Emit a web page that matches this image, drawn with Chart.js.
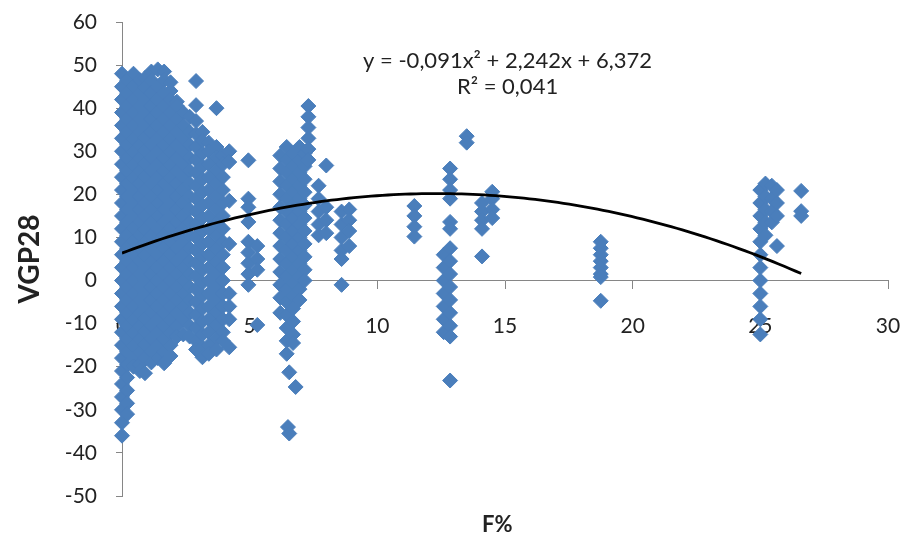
<!DOCTYPE html>
<html>
<head>
<meta charset="utf-8">
<title>VGP28 / F%</title>
<script src="https://cdn.jsdelivr.net/npm/chart.js@4.4.1/dist/chart.umd.min.js"></script>
<style>
  html, body { margin: 0; padding: 0; background: #fff; }
</style>
</head>
<body>
<canvas id="vgpChart" width="906" height="534"></canvas>
<script>
// F% value of each column of points, and the VGP28 values measured at it
const fColumns = [
  0, 0.2, 0.45, 0.7, 0.9, 1.15, 1.4, 1.65, 1.9, 2.15, 2.4, 2.65, 2.9, 3.15, 3.4, 3.7, 3.95, 4.2,
  4.95, 5.3,
  6.2, 6.45, 6.5, 6.55, 6.7, 6.8, 6.95, 7.15, 7.3, 7.7, 8.0, 8.6, 8.9,
  11.45, 12.6, 12.85, 13.5, 14.1, 14.5,
  18.75,
  25.0, 25.2, 25.45, 25.65, 26.6
];
const vgpColumns = [
  [48, 45, 42, 39, 36, 33, 30, 27, 24, 21, 18, 15, 12, 9, 6, 3, 0, -3, -6, -9, -12, -15, -18, -21, -24, -27, -30, -33, -36],
  [46.5, 43.5, 40.5, 37.5, 34.5, 31.5, 28.5, 25.5, 22.5, 19.5, 16.5, 13.5, 10.5, 7.5, 4.5, 1.5, -1.5, -4.5, -7.5, -10.5, -13.5, -16.5, -19.5, -22.5, -25.5, -28.5, -31],
  [48, 45, 42, 39, 36, 33, 30, 27, 24, 21, 18, 15, 12, 9, 6, 3, 0, -3, -6, -9, -12, -15, -18, -20],
  [46.5, 43.5, 40.5, 37.5, 34.5, 31.5, 28.5, 25.5, 22.5, 19.5, 16.5, 13.5, 10.5, 7.5, 4.5, 1.5, -1.5, -4.5, -7.5, -10.5, -13.5, -16.5, -19.5, -21],
  [47, 45, 42, 39, 36, 33, 30, 27, 24, 21, 18, 15, 12, 9, 6, 3, 0, -3, -6, -9, -12, -15, -18, -21.5],
  [48.5, 46.5, 43.5, 40.5, 37.5, 34.5, 31.5, 28.5, 25.5, 22.5, 19.5, 16.5, 13.5, 10.5, 7.5, 4.5, 1.5, -1.5, -4.5, -7.5, -10.5, -13.5, -16.5, -19],
  [49, 45, 42, 39, 36, 33, 30, 27, 24, 21, 18, 15, 12, 9, 6, 3, 0, -3, -6, -9, -12, -15, -18],
  [48.5, 46.5, 43.5, 40.5, 37.5, 34.5, 31.5, 28.5, 25.5, 22.5, 19.5, 16.5, 13.5, 10.5, 7.5, 4.5, 1.5, -1.5, -4.5, -7.5, -10.5, -13.5, -16.5, -19.2],
  [46, 44, 42, 39, 36, 33, 30, 27, 24, 21, 18, 15, 12, 9, 6, 3, 0, -3, -6, -9, -12, -15, -17.5],
  [41.5, 40.5, 37.5, 34.5, 31.5, 28.5, 25.5, 22.5, 19.5, 16.5, 13.5, 10.5, 7.5, 4.5, 1.5, -1.5, -4.5, -7.5, -10.5, -13],
  [39, 36, 33, 30, 27, 24, 21, 18, 15, 12, 9, 6, 3, 0, -3, -6, -9, -12.5],
  [38, 34.5, 31.5, 28.5, 25.5, 22.5, 19.5, 16.5, 13.5, 10.5, 7.5, 4.5, 1.5, -1.5, -4.5, -7.5, -10.5, -13],
  [46.3, 40.7, 37, 34, 31, 28, 25, 22, 19, 16, 13, 10, 7, 4, 1, -2, -5, -8, -11, -14, -16],
  [34.5, 32.5, 29.5, 26.5, 23.5, 20.5, 17.5, 14.5, 11.5, 8.5, 5.5, 2.5, -0.5, -3.5, -6.5, -9.5, -12.5, -15.5, -17.8],
  [32, 30, 27, 24, 21, 18, 15, 12, 9, 6, 3, 0, -3, -6, -9, -12, -15, -17],
  [40, 31, 28.5, 25.5, 22.5, 19.5, 16.5, 13.5, 10.5, 7.5, 4.5, 1.5, -1.5, -4.5, -7.5, -10.5, -13.5, -16],
  [29, 27, 24, 21, 18, 15, 12, 9, 6, 3, 0, -3, -6, -9, -12, -14],
  [30, 27.5, 18.5, 8.5, -3, -6, -9, -15.5],
  [27.9, 19, 17, 13.6, 9, 6.5, 4, 1.5, -1],
  [8, 5, 2.5, -10.3],
  [29, 26, 23, 20, 17, 14, 11, 8, 5, 2, -1, -4, -7.5],
  [31, 28, 25, 22, 19, 16, 13, 10, 7, 4, 1, -2, -5, -8, -11, -14, -17],
  [-34],
  [-21.3, -35.5],
  [29.5, 26.5, 23.5, 20.5, 17.5, 14.5, 11.5, 8.5, 5.5, 2.5, -0.5, -3.5, -6.5, -9.5, -12.5, -14.5],
  [-24.7],
  [31, 28, 25, 22, 19, 16, 13, 10, 7, 4, 1, -2, -4.5],
  [29.5, 26.5, 23.5, 20.5, 17.5, 14.5, 11.5, 8.5, 5.5, 2.5, 0],
  [40.5, 38, 35.5, 33, 30.5, 28],
  [22, 19, 16, 13, 10.5],
  [26.7, 17, 14, 11],
  [16, 13, 10, 7, 5, -1],
  [16.5, 14, 11.5, 8],
  [17.3, 15, 12.5, 10.2],
  [6, 3, 0, -3, -6, -9, -12],
  [26, 23.5, 21, 19, 13.6, 12, 7.5, 4.5, 1.5, -1.5, -4.5, -7.5, -10.5, -13, -23.2],
  [33.5, 32],
  [18, 16, 14, 12, 5.6],
  [20.6, 19, 16.5, 14.5],
  [9, 7.5, 6, 4.5, 3, 1.5, 0.8, -4.7],
  [21, 18, 15, 12, 9, 6, 3, 0, -3, -6, -9, -12.5],
  [22.5, 19.5, 16.5, 13.5, 10.5],
  [22, 19, 16, 13.5],
  [21, 18, 15, 8],
  [20.8, 16.1, 15]
];

// polynomial trendline (order 2): a, b, c of y = a*x^2 + b*x + c
const trendCoef = [-0.091, 2.242, 6.372];
const equationText = 'y = -0,091x² + 2,242x + 6,372';
const r2Text = 'R² = 0,041';

const xRange = [0, 30];
const yRange = [-50, 60];

const pointColor = '#4a7ebb';
const axisGray = '#868686';
const textColor = '#222';

Chart.defaults.font.family = 'Lato';

const points = [];
fColumns.forEach((f, i) => {
    vgpColumns[i].forEach(v => points.push({ x: f, y: v }));
});

// trendline runs over the data range only
const fMin = Math.min(...fColumns);
const fMax = Math.max(...fColumns);
const trendPoints = [];
for (let k = 0; k <= 120; k++) {
    const f = fMin + (fMax - fMin) * k / 120;
    trendPoints.push({ x: f, y: trendCoef[0] * f * f + trendCoef[1] * f + trendCoef[2] });
}

const noPadding = (scale) => {
    scale.paddingLeft = 0;
    scale.paddingRight = 0;
    scale.paddingTop = 0;
    scale.paddingBottom = 0;
};

// equation, R² and the x title drawn straight onto the canvas
const captions = {
    id: 'captions',
    afterDraw(chart) {
        const { ctx, scales } = chart;
        const cx = scales.x.getPixelForValue(15.1);
        ctx.save();
        ctx.fillStyle = textColor;
        ctx.textAlign = 'center';
        ctx.textBaseline = 'alphabetic';
        ctx.font = '22px Lato';
        ctx.fillText(equationText, cx, scales.y.getPixelForValue(49.4));
        ctx.fillText(r2Text, cx, scales.y.getPixelForValue(43.2));
        ctx.font = 'bold 22px Lato';
        ctx.textBaseline = 'middle';
        ctx.fillText('F%', scales.x.getPixelForValue(14.7), chart.height - 9);
        ctx.restore();
    }
};

const ctx = document.getElementById('vgpChart').getContext('2d');
const vgpChart = new Chart(ctx, {
    type: 'scatter',
    data: {
        datasets: [
            {
                label: 'Poly. (VGP28)',
                data: trendPoints,
                showLine: true,
                borderColor: '#000',
                borderWidth: 2.8,
                pointRadius: 0,
                fill: false,
                order: 0
            },
            {
                label: 'VGP28',
                data: points,
                pointStyle: 'rectRot',
                pointRadius: 7.5,
                pointBackgroundColor: pointColor,
                pointBorderColor: pointColor,
                pointBorderWidth: 1,
                clip: false,
                order: 1
            }
        ]
    },
    options: {
        responsive: false,
        animation: false,
        events: [],
        layout: { padding: { left: 0, top: 22, right: 18, bottom: 38 } },
        plugins: {
            legend: { display: false },
            tooltip: { enabled: false }
        },
        scales: {
            x: {
                type: 'linear',
                position: { y: 0 },
                min: xRange[0],
                max: xRange[1],
                ticks: { display: false, stepSize: 5 },
                grid: { drawOnChartArea: false, drawTicks: true, tickLength: 8, color: axisGray },
                border: { color: axisGray },
                afterFit: noPadding
            },
            // tick labels on their own axis so they sit above the points
            xLabels: {
                type: 'linear',
                axis: 'x',
                position: { y: 0 },
                min: xRange[0],
                max: xRange[1],
                z: 1,
                ticks: { stepSize: 5, padding: 25, color: textColor, font: { size: 21 } },
                grid: { display: false },
                border: { display: false },
                afterFit: noPadding
            },
            y: {
                position: 'left',
                min: yRange[0],
                max: yRange[1],
                ticks: { stepSize: 10, padding: 19, color: textColor, font: { size: 21 } },
                grid: { drawOnChartArea: false, drawTicks: true, tickLength: 6, color: axisGray },
                border: { color: axisGray },
                title: {
                    display: true,
                    text: 'VGP28',
                    color: textColor,
                    font: { size: 28, weight: 'bold' },
                    padding: { top: 13, bottom: 0 }
                },
                afterFit(scale) {
                    noPadding(scale);
                    scale.width = 122;
                }
            }
        }
    },
    plugins: [captions]
});
</script>
</body>
</html>
